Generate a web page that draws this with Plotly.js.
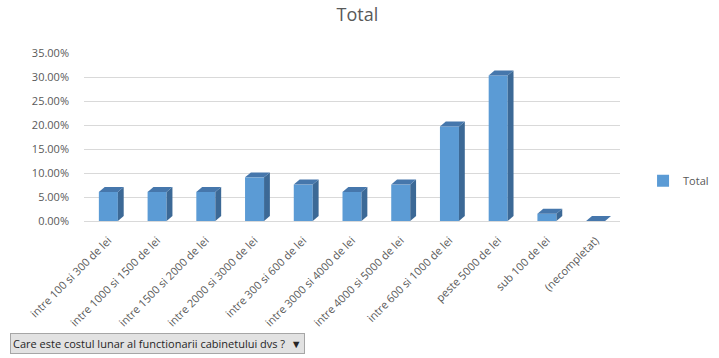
<!DOCTYPE html>
<html><head><meta charset="utf-8">
<script src="https://cdn.plot.ly/plotly-3.0.1.min.js"></script>
<style>html,body{margin:0;padding:0;background:#fff;}#chart{width:719px;height:358px;}</style>
</head><body><div id="chart"></div>
<script>
const categories = ["intre 100 si 300 de lei","intre 1000 si 1500 de lei","intre 1500 si 2000 de lei","intre 2000 si 3000 de lei","intre 300 si 600 de lei","intre 3000 si 4000 de lei","intre 4000 si 5000 de lei","intre 600 si 1000 de lei","peste 5000 de lei","sub 100 de lei","(necompletat)"];
const totalValues = [0.0606,0.0606,0.0606,0.0909,0.0758,0.0606,0.0758,0.1970,0.3030,0.0152,0.0];
const yTickVals = [0,0.05,0.10,0.15,0.20,0.25,0.30,0.35];
const seriesName = "Total";
const filterLabel = "Care este costul lunar al functionarii cabinetului dvs ?";

const idx = categories.map((c,i)=>i);
const barW = 0.39, dx = 0.12, dy = 0.0104;
const shapes = [];
totalValues.forEach((v,i)=>{
  const r = i + barW/2, l = i - barW/2;
  shapes.push({type:'path', xref:'x', yref:'y', layer:'above', line:{width:0}, fillcolor:'#3C6996',
    path:`M ${r} 0 L ${r+dx} ${dy} L ${r+dx} ${v+dy} L ${r} ${v} Z`});
  shapes.push({type:'path', xref:'x', yref:'y', layer:'above', line:{width:0}, fillcolor:'#4677AC',
    path:`M ${l} ${v} L ${l+dx} ${v+dy} L ${r+dx} ${v+dy} L ${r} ${v} Z`});
});

const trace = {type:'bar', x: idx, y: totalValues, name: seriesName, width: barW,
  marker:{color:'#5B9BD5'}, hoverinfo:'x+y'};

const fam = '"Open Sans", "Noto Sans", sans-serif';
const layout = {
  width:719, height:358,
  margin:{l:84, r:99, t:53, b:137, autoexpand:false},
  paper_bgcolor:'#fff', plot_bgcolor:'#fff',
  font: {family:fam, color:'#595959', size:11},
  title:{text:'Total', font:{family:fam, size:18, color:'#595959'}, x:0.497, xanchor:'center', y:0.96, yanchor:'middle'},
  showlegend:true,
  legend:{x:1.043, xanchor:'left', y:0.24, yanchor:'middle', font:{family:fam, size:11, color:'#595959'}, itemwidth:30},
  xaxis:{range:[-0.5,10.5], tickmode:'array', tickvals: idx, ticktext: categories, tickangle:-45,
    showgrid:false, zeroline:false, showline:false, ticks:'', tickfont:{size:11, color:'#595959'}, ticklabelstandoff:10},
  yaxis:{range:[0,0.35], tickmode:'array', tickvals: yTickVals, tickformat:'.2%', showgrid:true,
    gridcolor:'#D9D9D9', gridwidth:1, zeroline:true, zerolinecolor:'#D9D9D9', showline:false, ticks:'',
    tickfont:{size:11, color:'#595959'}, ticklabelstandoff:14},
  shapes: shapes,
  annotations:[{xref:'paper', yref:'paper', x:-0.138, xanchor:'left', y:-0.732, yanchor:'middle',
    text: filterLabel + '  \u25BC', showarrow:false, align:'left',
    font:{family:fam, size:11, color:'#262626'}, bgcolor:'#E2E2E2', bordercolor:'#A6A6A6', borderwidth:1, borderpad:2}]
};
Plotly.newPlot('chart', [trace], layout, {displayModeBar:false});
</script></body></html>
